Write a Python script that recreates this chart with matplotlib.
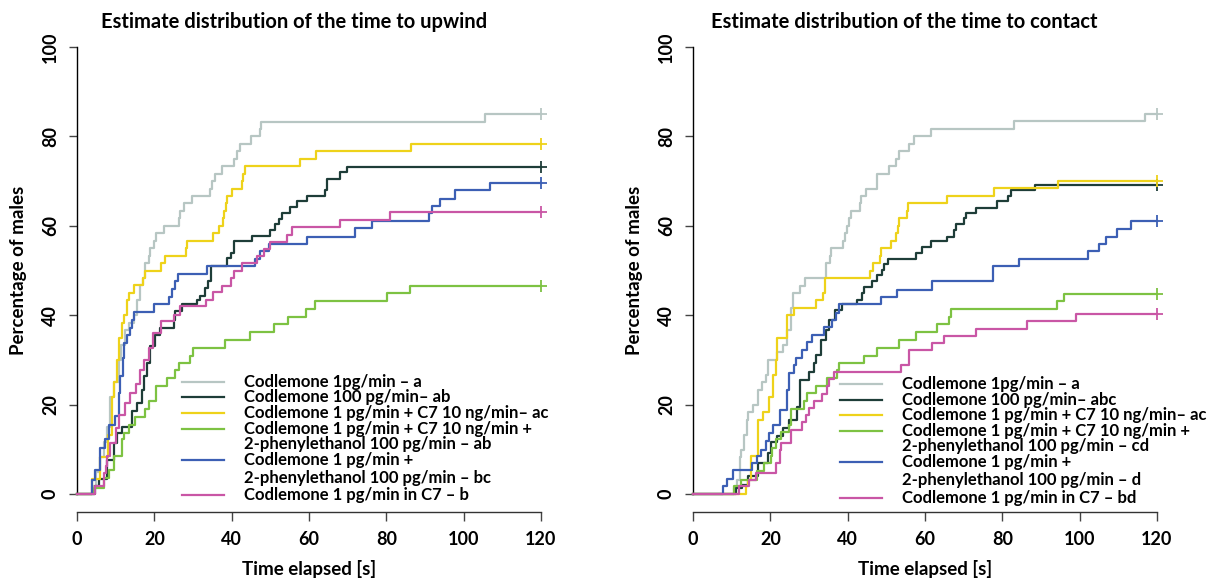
import matplotlib
matplotlib.use("Agg")
import matplotlib.pyplot as plt

plt.rcParams['font.family'] = ['Lato', 'DejaVu Sans']
plt.rcParams['font.weight'] = 'bold'
plt.rcParams['axes.labelweight'] = 'bold'

# colours of the six treatments
colors = ['#b7c6c3', '#1e3d38', '#eed21a', '#7dc242', '#3c5fb4', '#c956a5']

# ---- upwind (left panel): time [s] at which each level [%] is reached
up_gray_t = [0, 3.9, 5.0, 6.0, 7.0, 7.8, 8.6, 9.5, 10.8, 11.5, 12.5, 13.5, 14.7, 15.5, 16.4, 17.0, 17.7, 18.5, 19.0,
             19.8, 20.5, 22.4, 26.3, 26.7, 27.6, 29.7, 34.5, 35.0, 35.8, 37.5, 40.5, 41.4, 42.2, 45.0, 47.3, 47.7, 105.6]
up_gray_y = [0, 1.7, 5.0, 8.3, 11.7, 15.0, 21.7, 25.0, 30.0, 33.3, 36.7, 38.3, 40.0, 43.3, 46.7, 48.3, 51.7, 53.3, 55.0,
             56.7, 58.3, 60.0, 61.7, 63.3, 65.0, 66.7, 68.3, 70.0, 71.7, 73.3, 75.0, 76.7, 78.3, 80.0, 81.7, 83.3, 85.0]

up_dark_t = [0, 4.7, 5.6, 7.8, 9.5, 10.3, 11.6, 14.2, 15.5, 16.8, 17.2, 18.1, 19.0, 20.3, 21.4, 25.0, 25.4, 27.2, 31.0,
             31.9, 33.2, 33.9, 34.7, 38.8, 39.8, 40.5, 45.3, 50.0, 51.3, 52.2, 53.0, 55.2, 56.9, 59.5, 64.2, 64.7,
             68.1, 69.8, 76.7]
up_dark_y = [0, 1.7, 3.3, 7.7, 11.4, 13.6, 15.1, 18.5, 20.4, 23.3, 26.3, 29.3, 33.0, 35.6, 37.1, 39.0, 41.0, 42.4, 43.5,
             44.2, 46.0, 47.6, 51.0, 52.8, 53.9, 56.5, 57.8, 59.1, 60.5, 61.6, 62.9, 64.2, 65.5, 66.6, 68.0, 70.5,
             72.0, 73.1, 73.1]

up_yel_t = [0, 3.9, 6.0, 8.0, 9.0, 9.5, 10.3, 10.8, 11.6, 12.2, 12.9, 13.4, 14.8, 17.0, 17.7, 21.6, 22.8, 28.2, 28.4,
            35.1, 36.6, 37.8, 38.1, 38.5, 38.8, 40.1, 42.7, 42.9, 43.5, 57.8, 61.9, 86.4]
up_yel_y = [0, 3.3, 8.3, 13.3, 21.7, 25.0, 30.0, 35.0, 38.3, 40.0, 43.3, 45.0, 46.7, 48.3, 50.0, 51.7, 53.3, 55.0, 56.7,
            58.3, 60.0, 61.7, 63.3, 65.0, 66.7, 68.3, 70.0, 71.7, 73.3, 75.0, 76.7, 78.3]

up_grn_t = [0, 4.3, 6.9, 8.2, 9.5, 11.6, 12.1, 13.4, 15.1, 17.7, 18.5, 20.5, 23.4, 25.4, 26.5, 29.3, 30.0, 38.4, 44.7,
            50.9, 54.5, 59.1, 61.6, 80.2, 86.0]
up_grn_y = [0, 1.3, 3.6, 5.4, 8.6, 12.2, 13.6, 15.5, 17.2, 19.0, 20.7, 24.2, 26.0, 27.8, 29.3, 30.8, 32.7, 34.5, 36.2,
            38.0, 39.7, 41.4, 43.1, 45.0, 46.6]

up_blu_t = [0, 3.9, 4.7, 6.0, 7.3, 8.4, 9.9, 10.8, 11.2, 11.9, 12.2, 12.9, 13.8, 14.2, 14.8, 19.8, 23.7, 24.6, 25.4,
            26.0, 33.6, 46.0, 47.2, 49.6, 59.5, 72.0, 76.3, 91.0, 91.8, 94.0, 97.8, 106.9]
up_blu_y = [0, 3.2, 5.4, 10.3, 12.2, 15.5, 17.4, 22.6, 26.3, 30.4, 33.8, 35.6, 37.1, 39.0, 40.7, 42.4, 44.1, 45.9, 47.6,
            49.3, 50.9, 52.6, 54.3, 56.0, 57.6, 59.5, 61.0, 62.9, 64.4, 66.1, 67.9, 69.6]

up_pnk_t = [0, 4.7, 6.9, 7.6, 7.8, 8.6, 10.2, 10.8, 12.5, 13.8, 15.3, 16.4, 17.2, 18.5, 19.7, 21.6, 25.0, 26.7, 33.4,
            35.3, 37.5, 39.7, 40.5, 42.7, 46.6, 48.3, 49.8, 54.3, 55.6, 67.9, 80.9]
up_pnk_y = [0, 1.7, 4.7, 6.2, 8.4, 11.4, 14.8, 17.7, 20.4, 22.7, 24.5, 27.8, 30.0, 32.7, 36.0, 38.6, 40.1, 42.0, 43.5,
            45.1, 46.6, 48.3, 50.0, 51.7, 53.2, 54.7, 56.3, 58.0, 59.7, 61.4, 63.0]

# ---- contact (right panel)
ct_gray_t = [0, 10.6, 11.3, 12.2, 12.5, 13.2, 13.9, 14.3, 15.6, 16.8, 17.9, 18.8, 19.4, 21.8, 23.4, 24.2, 25.3, 25.9,
             27.7, 28.9, 34.3, 35.4, 35.8, 38.9, 39.2, 39.9, 40.3, 40.9, 43.2, 43.5, 44.7, 47.5, 50.7, 52.4, 53.3,
             55.9, 57.2, 61.5, 83.0, 116.9]
ct_gray_y = [0, 1.3, 3.2, 8.3, 9.9, 13.3, 16.6, 18.3, 20.0, 23.3, 25.0, 26.7, 30.0, 31.7, 33.4, 36.8, 41.6, 45.0,
             46.6, 48.3, 51.7, 53.3, 55.0, 56.7, 58.4, 60.0, 61.7, 63.2, 65.0, 66.6, 68.2, 71.7, 73.3, 75.0, 76.7,
             78.4, 80.0, 81.7, 83.4, 85.0]

ct_dark_t = [0, 11.0, 12.8, 14.1, 16.8, 19.4, 20.1, 21.8, 23.4, 24.8, 27.0, 27.8, 30.0, 31.3, 31.7, 33.0, 34.3, 35.2,
             36.6, 38.6, 42.5, 43.8, 44.2, 46.4, 47.7, 49.0, 49.4, 50.4, 57.8, 59.1, 61.5, 65.6, 67.5, 67.9, 70.1,
             70.5, 73.1, 78.7, 81.5, 82.2, 88.4]
ct_dark_y = [0, 1.3, 2.1, 4.0, 6.9, 9.2, 11.6, 12.9, 14.8, 16.6, 19.5, 25.6, 27.4, 29.3, 31.2, 34.5, 36.8, 39.0,
             41.1, 42.4, 43.5, 45.0, 46.3, 47.6, 49.1, 50.2, 51.5, 52.6, 53.9, 55.3, 56.5, 57.6, 59.1, 60.3, 61.7,
             62.9, 64.0, 65.5, 66.6, 68.1, 69.2]

ct_yel_t = [0, 13.6, 14.1, 14.9, 16.8, 18.2, 19.7, 20.8, 21.4, 21.8, 24.2, 26.1, 31.7, 33.7, 34.1, 45.9, 46.6, 48.4,
            48.5, 51.1, 52.4, 53.0, 53.3, 55.4, 55.7, 65.8, 77.8, 94.5]
ct_yel_y = [0, 1.7, 3.2, 8.4, 16.6, 18.3, 21.8, 26.7, 30.0, 34.9, 40.1, 41.6, 43.3, 45.0, 48.3, 50.0, 51.7, 53.3,
            55.0, 56.7, 58.4, 60.0, 61.7, 63.2, 65.0, 66.7, 68.5, 70.1]

ct_grn_t = [0, 10.6, 12.5, 16.6, 18.4, 20.1, 20.5, 21.4, 22.7, 24.8, 25.3, 28.7, 29.4, 31.7, 34.7, 37.2, 37.8, 44.2,
            47.7, 53.3, 57.8, 63.2, 66.2, 66.8, 94.1, 95.9]
ct_grn_y = [0, 1.7, 3.2, 5.1, 6.9, 8.6, 10.3, 12.2, 13.8, 15.5, 19.0, 20.7, 22.6, 24.2, 26.0, 27.7, 29.3, 30.9,
            32.7, 34.5, 36.2, 38.0, 39.7, 41.4, 43.1, 44.8]

ct_blu_t = [0, 7.8, 8.7, 10.4, 15.3, 16.6, 17.5, 18.8, 19.7, 20.8, 22.5, 24.2, 24.8, 26.1, 26.6, 28.3, 29.6, 30.9,
            33.9, 36.0, 36.9, 37.8, 48.7, 52.7, 61.9, 77.7, 84.3, 102.2, 105.0, 106.7, 109.7, 113.4]
ct_blu_y = [0, 1.7, 3.4, 5.3, 6.9, 8.4, 9.9, 11.8, 13.6, 15.5, 18.9, 23.3, 27.1, 28.8, 30.4, 32.3, 33.9, 35.6,
            37.3, 39.0, 40.6, 42.4, 44.1, 45.7, 47.6, 50.9, 52.6, 54.3, 56.0, 57.6, 59.3, 61.0]

ct_pnk_t = [0, 11.9, 14.5, 16.2, 21.4, 22.5, 22.7, 25.3, 28.3, 29.1, 30.0, 31.3, 33.4, 34.7, 35.2, 36.5, 53.7, 55.9,
            61.9, 64.9, 73.1, 86.5, 99.0]
ct_pnk_y = [0, 1.7, 3.2, 4.8, 6.9, 9.9, 11.4, 14.4, 16.0, 17.7, 19.2, 20.7, 22.4, 24.1, 25.7, 27.2, 28.9, 32.3,
            33.8, 35.4, 36.9, 38.6, 40.3]

labels_up = ['Codlemone 1pg/min \u2013 a',
             'Codlemone 100 pg/min\u2013 ab',
             'Codlemone 1 pg/min + C7 10 ng/min\u2013 ac',
             'Codlemone 1 pg/min + C7 10 ng/min +\n2-phenylethanol 100 pg/min \u2013 ab',
             'Codlemone 1 pg/min +\n2-phenylethanol 100 pg/min \u2013 bc',
             'Codlemone 1 pg/min in C7 \u2013 b']
labels_ct = ['Codlemone 1pg/min \u2013 a',
             'Codlemone 100 pg/min\u2013 abc',
             'Codlemone 1 pg/min + C7 10 ng/min\u2013 ac',
             'Codlemone 1 pg/min + C7 10 ng/min +\n2-phenylethanol 100 pg/min \u2013 cd',
             'Codlemone 1 pg/min +\n2-phenylethanol 100 pg/min \u2013 d',
             'Codlemone 1 pg/min in C7 \u2013 bd']

x_ticks = [0, 20, 40, 60, 80, 100, 120]
y_ticks = [0, 20, 40, 60, 80, 100]
t_end = 120

up_series = [(up_gray_t, up_gray_y), (up_dark_t, up_dark_y), (up_yel_t, up_yel_y),
             (up_grn_t, up_grn_y), (up_blu_t, up_blu_y), (up_pnk_t, up_pnk_y)]
ct_series = [(ct_gray_t, ct_gray_y), (ct_dark_t, ct_dark_y), (ct_yel_t, ct_yel_y),
             (ct_grn_t, ct_grn_y), (ct_blu_t, ct_blu_y), (ct_pnk_t, ct_pnk_y)]

W, H = 1221, 578
fig = plt.figure(figsize=(W / 100, H / 100), dpi=100)


def panel(left_px, series, labels, title, title_px, leg_x, leg_top):
    ax = fig.add_axes([left_px / W, (H - 494) / H, 464 / W, 447 / H])
    ax.set_xlim(0, 120)
    ax.set_ylim(0, 100)
    ax.patch.set_alpha(0)
    for (t, y), c in zip(series, colors):
        ax.step(t + [t_end], y + [y[-1]], where='post', color=c, lw=1.6, clip_on=False, zorder=3)
        ax.plot([t_end], [y[-1]], marker='+', ms=9, mew=1.3, color=c, clip_on=False, zorder=4)
    for s in ['top', 'right']:
        ax.spines[s].set_visible(False)
    ax.spines['bottom'].set_position(('outward', 13))
    ax.spines['left'].set_linewidth(1.0)
    ax.spines['bottom'].set_linewidth(1.0)
    ax.spines['bottom'].set_color('#333333')
    ax.set_xticks(x_ticks)
    ax.set_yticks(y_ticks)
    ax.tick_params(axis='x', length=6.5, width=1.0, pad=7, labelsize=13, color='#444444')
    ax.tick_params(axis='y', length=6, width=1.0, pad=7, labelsize=13, labelrotation=90, color='#444444')
    for lab in ax.get_xticklabels() + ax.get_yticklabels():
        lab.set_fontweight('bold')
    for lab in ax.get_yticklabels():
        lab.set_va('center')
    ax.set_xlabel('Time elapsed [s]', fontsize=13.5, labelpad=9)
    ax.set_ylabel('Percentage of males', fontsize=13.5, labelpad=11)
    fig.text(title_px / W, 1 - 22 / H, title, fontsize=14.5, ha='center', va='center')

    # legend drawn by hand, line next to the first text row of each entry
    row_h = 15.6 / 4.47
    gap = 2.2 / 4.47
    y = leg_top
    for k, (lab, c) in enumerate(zip(labels, colors)):
        parts = lab.split('\n')
        ax.plot([leg_x[0], leg_x[1]], [y, y], color=c, lw=1.6, clip_on=False)
        for i, part in enumerate(parts):
            ax.text(leg_x[2], y, part, fontsize=12, va='center', ha='left')
            if i < len(parts) - 1:
                y -= row_h + gap * (k == 4)
        y -= row_h + gap * (k >= 4)
    return ax


panel(77, up_series, labels_up, 'Estimate distribution of the time to upwind', 294,
      (27.1, 37.9, 43.2), 25.1)
panel(693, ct_series, labels_ct, 'Estimate distribution of the time to contact', 904,
      (38.0, 48.8, 54.0), 24.6)

fig.savefig('out.png', dpi=100)
